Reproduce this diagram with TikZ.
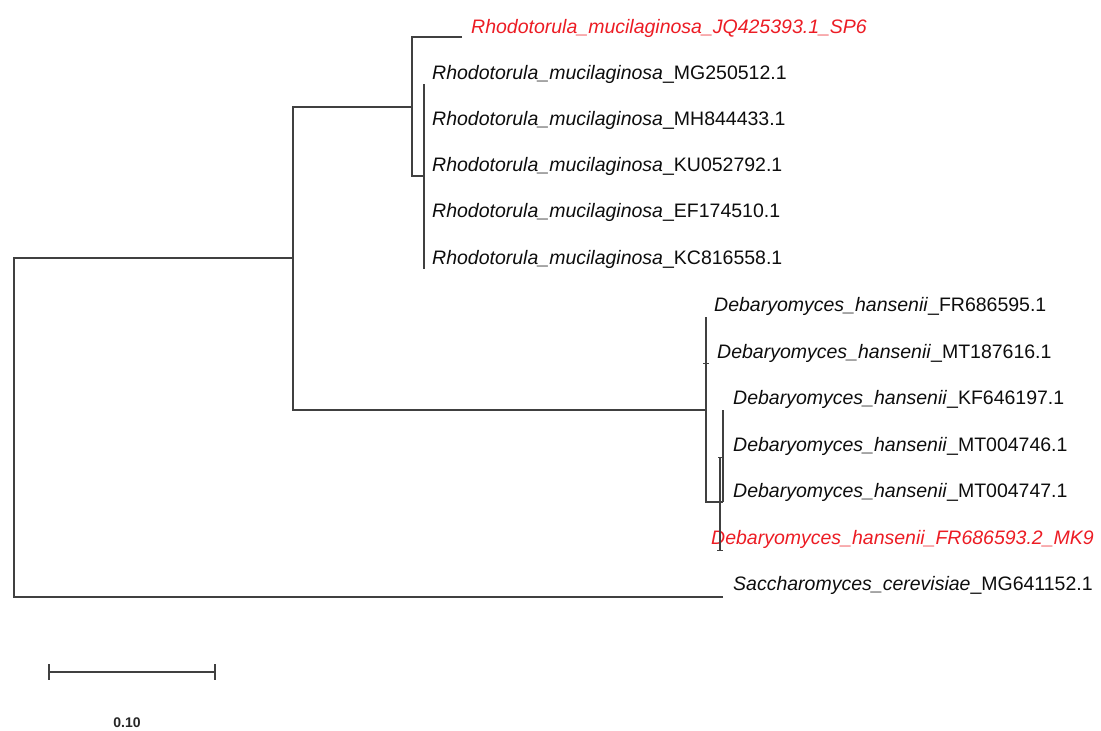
\documentclass[tikz,border=0pt]{standalone}
\usepackage{fontspec}
\setmainfont{Liberation Sans}
\definecolor{marked}{RGB}{236,28,36}
\begin{document}
\begin{tikzpicture}[x=1pt,y=-1pt,
  branch/.style={draw=black!75,line width=1.6pt},
  tick/.style={draw=black!75,line width=1pt},
  leaf/.style={anchor=base west,inner sep=0pt,text=black!95,font=\fontsize{19.5}{23}\selectfont},
  markedleaf/.style={leaf,text=marked,font=\fontsize{19.5}{23}\selectfont\itshape}]
\useasboundingbox (0,0) rectangle (1101,731);

\coordinate (root) at (14,258);
\coordinate (inner) at (293,258);
\coordinate (rho) at (412,107);
\coordinate (rhoB) at (424,176);
\coordinate (deb) at (706,410);
\coordinate (debB) at (723,502);
\coordinate (debC) at (720,457);

\coordinate (sp6tip) at (462,37);
\coordinate (mgtip) at (424,84);
\coordinate (kctip) at (424,269);
\coordinate (fr1tip) at (706,317);
\coordinate (mt1tip) at (706,363);
\coordinate (kftip) at (723,410);
\coordinate (mk9tip) at (720,550);
\coordinate (sactip) at (723,597);

\node[markedleaf] (sp6) at (471,33) {Rhodotorula\_mucilaginosa\_JQ425393.1\_SP6};
\node[leaf] (mg) at (432,79) {\textit{Rhodotorula\_mucilaginosa}\_MG250512.1};
\node[leaf] (mh) at (432,125) {\textit{Rhodotorula\_mucilaginosa}\_MH844433.1};
\node[leaf] (ku) at (432,171) {\textit{Rhodotorula\_mucilaginosa}\_KU052792.1};
\node[leaf] (ef) at (432,217) {\textit{Rhodotorula\_mucilaginosa}\_EF174510.1};
\node[leaf] (kc) at (432,264) {\textit{Rhodotorula\_mucilaginosa}\_KC816558.1};
\node[leaf] (fr1) at (714,311) {\textit{Debaryomyces\_hansenii}\_FR686595.1};
\node[leaf] (mt1) at (717,358) {\textit{Debaryomyces\_hansenii}\_MT187616.1};
\node[leaf] (kf) at (733,404) {\textit{Debaryomyces\_hansenii}\_KF646197.1};
\node[leaf] (mt2) at (733,451) {\textit{Debaryomyces\_hansenii}\_MT004746.1};
\node[leaf] (mt3) at (733,497) {\textit{Debaryomyces\_hansenii}\_MT004747.1};
\node[markedleaf] (mk9) at (711,544) {Debaryomyces\_hansenii\_FR686593.2\_MK9};
\node[leaf] (sac) at (733,590) {\textit{Saccharomyces\_cerevisiae}\_MG641152.1};

\draw[branch] (sactip) -| (root) -- (inner);
\draw[branch] (rho) -| (inner) |- (deb);
\draw[branch] (sp6tip) -| (rho) |- (rhoB);
\draw[branch] (mgtip) -- (kctip);
\draw[branch] (fr1tip) -- (deb) |- (debB);
\draw[branch] (kftip) -- (debB);
\draw[branch] (debC) -- (mk9tip);
\draw[tick] (mt1tip) ++(-3,0) -- ++(6,0);
\draw[tick] (debC) ++(-2,0) -- ++(6,0);
\draw[tick] (mk9tip) ++(-3,0) -- ++(6,0);

\coordinate (barL) at (49,672);
\coordinate (barR) at (215,672);
\draw[branch,line width=1.8pt] (barL) -- (barR);
\draw[branch,line width=1.8pt] (barL) ++(0,-8) -- ++(0,16);
\draw[branch,line width=1.8pt] (barR) ++(0,-8) -- ++(0,16);
\node[font=\fontsize{14}{16}\selectfont\bfseries,text=black!85] (barlabel) at (127,723) {0.10};
\end{tikzpicture}
\end{document}
